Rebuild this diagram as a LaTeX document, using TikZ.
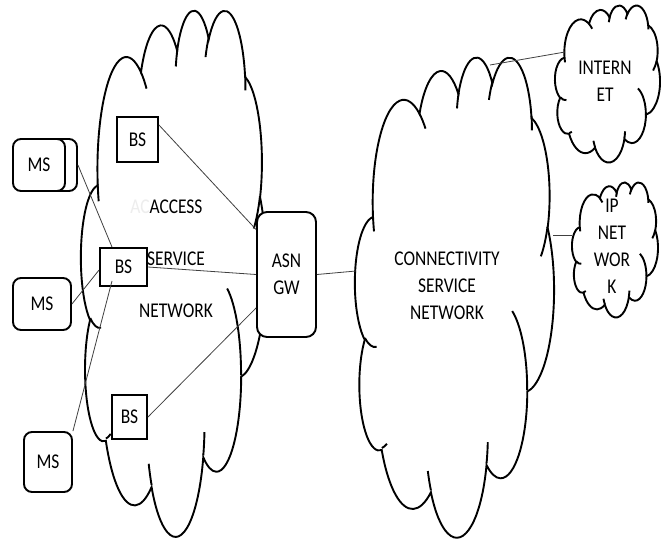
\documentclass[tikz,border=0pt]{standalone}
\usepackage{fontspec}
\setmainfont{Carlito}[FakeStretch=0.83]
\usetikzlibrary{calc}

\newcommand\msoarc[4]{%
  \pgfextra{%
    \pgfmathsetmacro\msoA{#3}%
    \pgfmathsetmacro\msoB{#3+#4}%
    \pgfmathsetmacro\msoTs{atan2(#1*sin(\msoA),#2*cos(\msoA))}%
    \pgfmathsetmacro\msoTe{atan2(#1*sin(\msoB),#2*cos(\msoB))}%
    \pgfmathsetmacro\msoD{mod(\msoTe-(\msoTs)+720,360)}%
    \global\let\msoS\msoTs\global\let\msoDelta\msoD}%
  arc[x radius=#1, y radius=#2, start angle=\msoS, delta angle=\msoDelta]}

\newcommand\msocloud[4]{%
  \pgfmathsetmacro\cloudw{#3/43.2}%
  \pgfmathsetmacro\cloudh{#4/43.2}%
  \begin{scope}[shift={(#1,#2)}, x=\cloudw pt, y=-\cloudh pt]
    \draw[cloudline, fill=white] (3.9,14.37)
      \msoarc{6.753}{9.19}{-190.4875}{123.7805}
      \msoarc{5.333}{7.267}{-144.1024}{89.9452}
      \msoarc{4.365}{5.945}{-145.8079}{99.7230}
      \msoarc{4.857}{6.595}{-130.9861}{117.2417}
      \msoarc{5.333}{7.273}{-78.7089}{109.0269}
      \msoarc{6.775}{9.22}{-46.2673}{130.2690}
      \msoarc{5.785}{7.867}{0.6250}{114.0333}
      \msoarc{6.752}{9.215}{22.4516}{115.1726}
      \msoarc{7.72}{10.543}{66.2426}{75.7110}
      \msoarc{4.36}{5.918}{-274.9421}{146.7356}
      \msoarc{4.345}{5.945}{-246.8285}{152.5189} -- cycle;
    \draw[cloudline] (4.693,26.177) \msoarc{4.345}{5.945}{86.742}{26.4295}
      (6.928,34.899) \msoarc{4.36}{5.918}{73.6105}{11.4475}
      (16.478,39.09) \msoarc{6.752}{9.215}{137.6242}{14.0811}
      (28.827,34.751) \msoarc{6.752}{9.215}{6.4533}{15.9984}
      (34.129,22.954) \msoarc{5.785}{7.867}{-70.2924}{70.9174}
      (41.798,15.354) \msoarc{5.333}{7.273}{30.318}{27.7515}
      (38.324,5.426) \msoarc{4.857}{6.595}{-13.7443}{14.8589}
      (29.078,3.952) \msoarc{4.857}{6.595}{-149.1815}{18.1954}
      (22.141,4.72) \msoarc{4.365}{5.945}{-163.4943}{17.6864}
      (14,5.192) \msoarc{6.753}{9.19}{-66.707}{12.3194}
      (4.127,15.789) \msoarc{6.753}{9.19}{157.6544}{11.8582};
  \end{scope}}

\begin{document}
\begin{tikzpicture}[x=1pt, y=-1pt]
        \tikzstyle{cloudline}=[draw=black, line width=1.9pt]
        \tikzstyle{bsbox}=[rectangle, draw=black, line width=1.9pt, fill=white, inner sep=0pt, align=center, font=\fontsize{21}{27}\selectfont]
        \tikzstyle{msbox}=[bsbox, rounded corners=8pt]
        \tikzstyle{txt}=[align=center, inner sep=0pt, font=\fontsize{21}{27}\selectfont]
        \tikzstyle{wire}=[draw=black!75, line width=0.8pt]

        \useasboundingbox (0,0) rectangle (669,538);

        \msocloud{81}{9}{185}{526}
        \msocloud{355}{56}{199}{480}
        \msocloud{555}{5}{105}{157}
        \msocloud{572}{182}{86}{135}

        \node[txt] (asntext) at (176,259) {ACCESS\\[25pt]SERVICE\\[25pt]NETWORK};
        \node[txt, text=black!7] (ghostac) at (140,207) {AC};
        \node[txt] (csntext) at (447,286) {CONNECTIVITY\\SERVICE\\NETWORK};
        \node[txt] (inettext) at (605,81) {INTERN\\ET};
        \node[txt] (iptext) at (612,246) {IP\\NET\\WOR\\K};

        \node[msbox, minimum width=52pt, minimum height=52pt] (ms1back) at (51,165) {};
        \node[msbox, minimum width=52pt, minimum height=52pt] (ms1) at (39,165) {MS};
        \node[msbox, minimum width=58pt, minimum height=52pt] (ms2) at (42,304) {MS};
        \node[msbox, minimum width=48pt, minimum height=60pt] (ms3) at (48,462) {MS};
        \node[bsbox, minimum width=41pt, minimum height=45pt] (bs1) at (137.5,139.5) {BS};
        \node[bsbox, minimum width=47pt, minimum height=38pt] (bs2) at (123.5,267) {BS};
        \node[bsbox, minimum width=35pt, minimum height=44pt] (bs3) at (129.5,417) {BS};
        \node[msbox, rounded corners=10pt, minimum width=59pt, minimum height=125pt] (asngw) at (286.5,274.5) {ASN\\GW};

        \coordinate (csnwest) at (356,271);
        \coordinate (csntop) at (490,65);
        \coordinate (csneast) at (553,235);
        \coordinate (inetwest) at (565,52);
        \coordinate (ipwest) at (572,235);

        \draw[wire] (ms1back.east) -- ([xshift=-11.5pt]bs2.north);
        \draw[wire] (ms2.east) -- ([yshift=-3pt]bs2.west);
        \draw[wire] (ms3.north east) -- ([shift={(-11.5,-6)}]bs2.south);
        \draw[wire] ([yshift=14.5pt]bs1.east) -- ([yshift=45pt]asngw.west);
        \draw[wire] (bs2.east) -- (asngw.west);
        \draw[wire] (bs3.east) -- ([yshift=-33.5pt]asngw.west);
        \draw[wire] (asngw.east) -- (csnwest);
        \draw[wire] (csntop) -- (inetwest);
        \draw[wire] (csneast) -- (ipwest);
\end{tikzpicture}
\end{document}
